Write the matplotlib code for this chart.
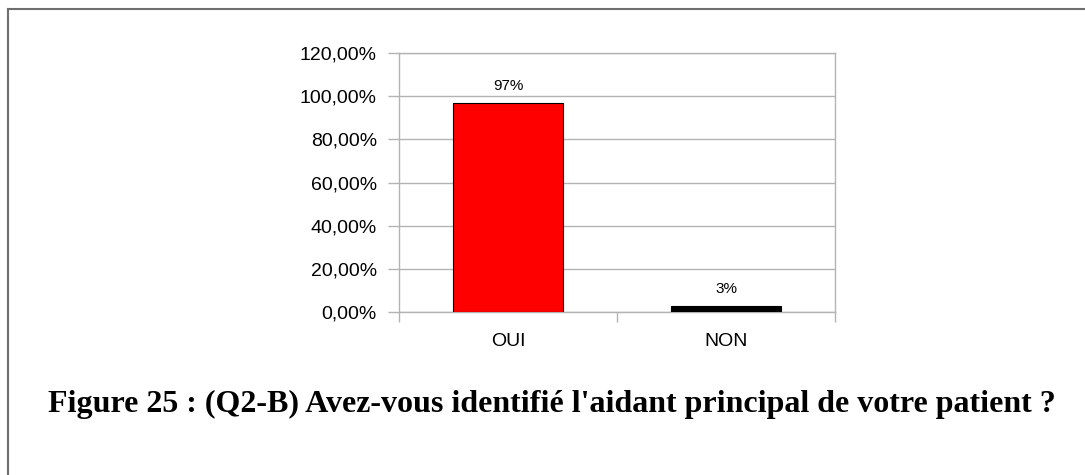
import matplotlib
matplotlib.use("Agg")
import matplotlib.pyplot as plt
from matplotlib.lines import Line2D

categories = ["OUI", "NON"]
values = [97, 3]
value_labels = ["97%", "3%"]
bar_colors = ["#ff0000", "#000000"]
yticks = [0, 20, 40, 60, 80, 100, 120]
ytick_labels = ["0,00%", "20,00%", "40,00%", "60,00%", "80,00%", "100,00%", "120,00%"]
caption = "Figure 25 : (Q2-B) Avez-vous identifié l'aidant principal de votre patient ?"

W, H = 1085, 475
fig = plt.figure(figsize=(W / 100, H / 100), dpi=100)
fig.patch.set_facecolor("white")

# outer frame (top and left visible)
fig.add_artist(Line2D([7.5 / W, 1.0], [1 - 8.5 / H, 1 - 8.5 / H], transform=fig.transFigure,
                      color="#6e6e6e", lw=1.5))
fig.add_artist(Line2D([7.5 / W, 7.5 / W], [0, 1 - 8.5 / H], transform=fig.transFigure,
                      color="#6e6e6e", lw=1.5))

x0, x1, y0, y1 = 399, 835, 53, 312
ax = fig.add_axes([x0 / W, 1 - y1 / H, (x1 - x0) / W, (y1 - y0) / H])
ax.set_xlim(-0.5, 1.5)
ax.set_ylim(0, 120)

xs = list(range(len(categories)))
bars = ax.bar(xs, values, width=0.505, color=bar_colors, edgecolor="black", linewidth=0.8, zorder=3)

for b, lab in zip(bars, value_labels):
    ax.annotate(lab, (b.get_x() + b.get_width() / 2, b.get_height()), xytext=(0, 9),
                textcoords="offset points", ha="center", va="baseline",
                fontsize=11, family="Liberation Sans")

ax.set_yticks(yticks)
ax.set_yticklabels(ytick_labels, fontsize=14, family="Liberation Sans")
ax.yaxis.grid(True, color="#b3b3b3", lw=1)
ax.set_axisbelow(True)
ax.tick_params(axis="y", length=8, width=1, color="#b3b3b3", pad=8)

ax.set_xticks([-0.5, 0.5, 1.5])
ax.set_xticklabels(["", "", ""])
ax.tick_params(axis="x", which="major", length=7.5, width=1, color="#b3b3b3")
ax.set_xticks(xs, minor=True)
ax.set_xticklabels(categories, minor=True, fontsize=14, family="Liberation Sans")
ax.tick_params(axis="x", which="minor", length=0, pad=15)

for s in ["left", "right", "top", "bottom"]:
    ax.spines[s].set_color("#b3b3b3")
    ax.spines[s].set_linewidth(1)

fig.text(552 / W, 1 - 412 / H, caption, ha="center", va="baseline",
         fontsize=23, fontweight="bold", family="Liberation Serif")

fig.savefig("out.png", dpi=100, facecolor="white")
